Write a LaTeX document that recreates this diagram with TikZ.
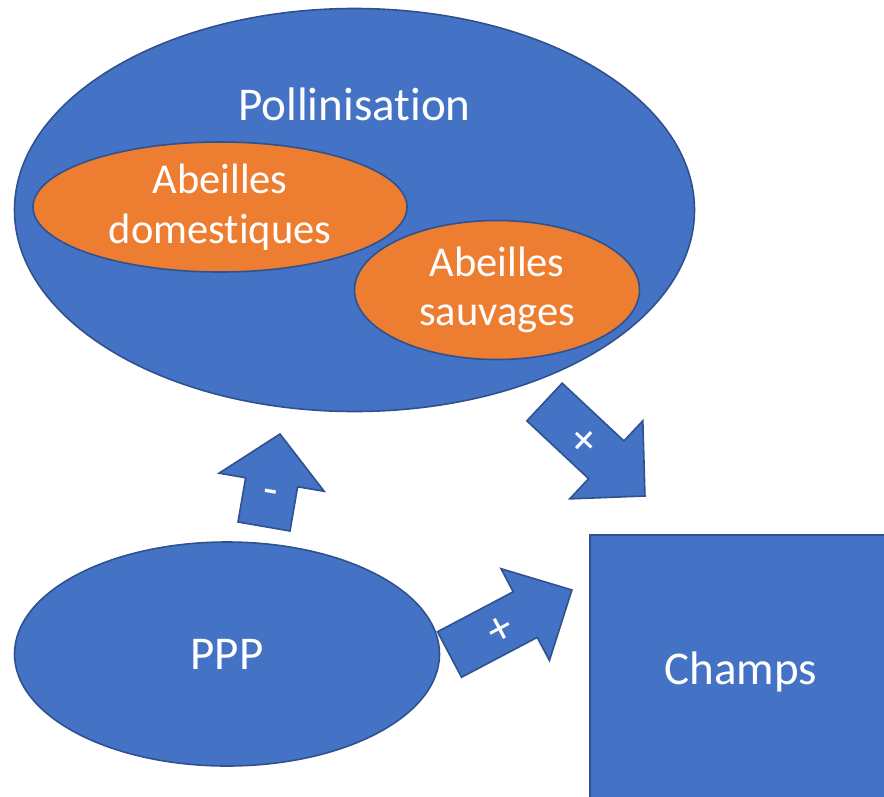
\documentclass[tikz,border=0pt]{standalone}
\usepackage{fontspec}
\setmainfont[Ligatures={NoCommon}]{Carlito}
\usetikzlibrary{shapes.geometric}

\definecolor{fillblue}{HTML}{4472C4}
\definecolor{edgeblue}{HTML}{2F528F}
\definecolor{fillorange}{HTML}{ED7D31}

\tikzset{
  shapeline/.style={draw=edgeblue, line width=1.6pt},
  bluebody/.style={shapeline, fill=fillblue, text=white},
  orangebody/.style={shapeline, fill=fillorange, text=white},
  oval/.style={ellipse, inner sep=0pt},
  bigtext/.style={font=\fontsize{47}{57}\selectfont},
  smalltext/.style={font=\fontsize{42.5}{49.5}\selectfont, align=center},
  signtext/.style={text=white, inner sep=0pt, font=\fontsize{47}{54}\selectfont},
  % block arrow pointing along local +x: length, shaft width, head length, head width
  pics/blockarrow/.style n args={4}{code={
    \draw[bluebody, line join=miter]
      (0,{#2/2}) -- ({#1-#3},{#2/2}) -- ({#1-#3},{#4/2}) -- (#1,0)
      -- ({#1-#3},{-#4/2}) -- ({#1-#3},{-#2/2}) -- (0,{-#2/2}) -- cycle;
  }}
}

\begin{document}
\begin{tikzpicture}[x=1pt, y=-1pt]
  \clip (0,0) rectangle (884,796);

  % pollination ellipse with its two bee groups
  \node[oval, bluebody, minimum width=680, minimum height=403] (poll) at (354.5,210) {};
  \node[bigtext, text=white, anchor=base] (polltext) at (354.5,120) {Pollinisation};
  \node[oval, orangebody, smalltext, minimum width=374, minimum height=130] (dom) at (220,207)
    {Abeilles\\domestiques};
  \node[oval, orangebody, smalltext, minimum width=285, minimum height=139] (sauv) at (497,290)
    {Abeilles\\sauvages};

  % pesticide side and fields
  \node[oval, bluebody, bigtext, minimum width=425, minimum height=224] (ppp) at (227,654) {PPP};
  \node[rectangle, bluebody, bigtext, inner sep=0pt, minimum width=302, minimum height=274] (champs)
    at (741,672) {Champs};

  % influence arrows
  \pic[rotate=-43.1] (pollchamps) at (544.5,402) {blockarrow={137.6}{51.7}{53}{107}};
  \node[signtext, rotate=-43.1] (pollchampssign) at (583,442) {+};

  \pic[rotate=80.2] (ppppoll) at (264,526.5) {blockarrow={93.9}{52.8}{49}{106.7}};
  \node[signtext, rotate=-9.8] (ppppollsign) at (270,497) {-};

  \pic[rotate=27.8] (pppchamps) at (449.5,654.5) {blockarrow={138.4}{51.5}{52.8}{103.8}};
  \node[signtext, rotate=27.8] (pppchampssign) at (500.5,630.5) {+};
\end{tikzpicture}
\end{document}
